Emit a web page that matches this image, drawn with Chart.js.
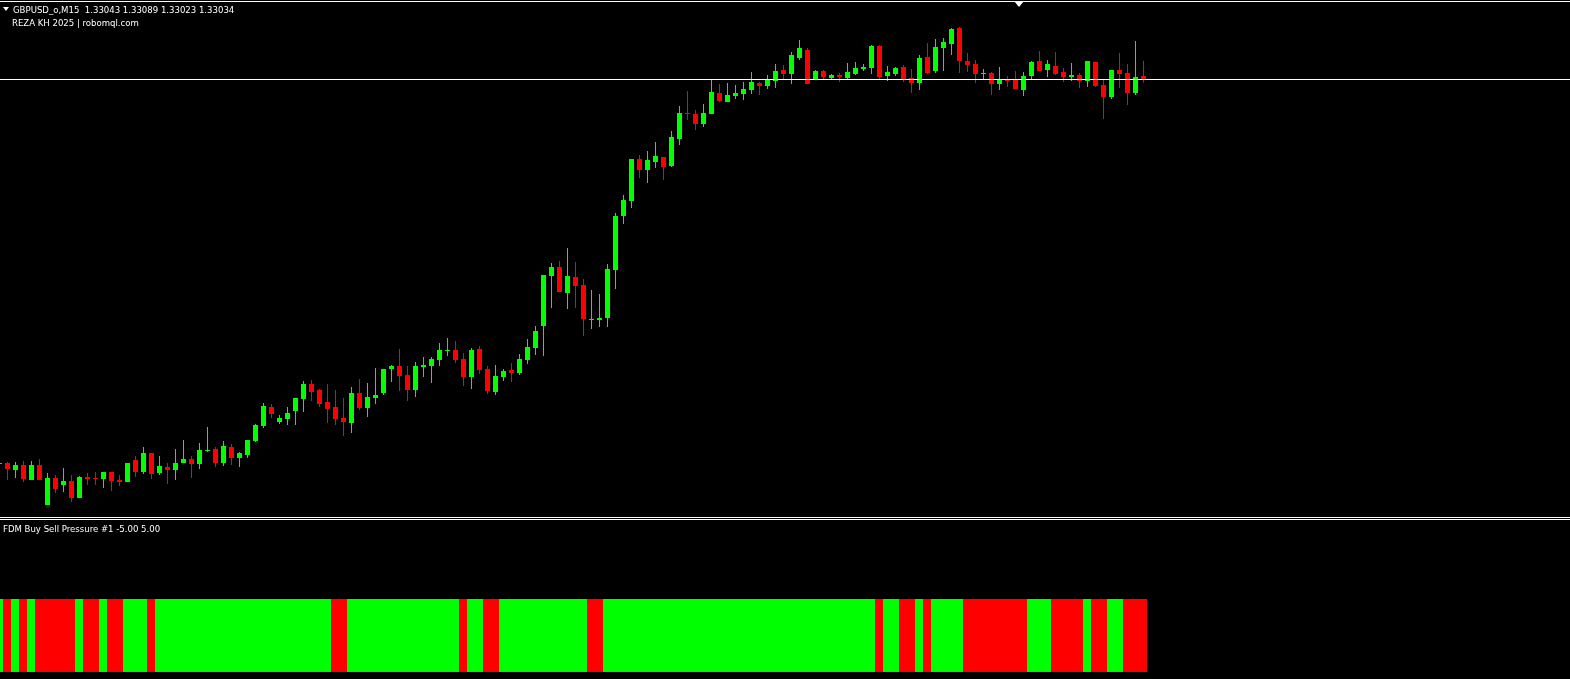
<!DOCTYPE html>
<html>
<head>
<meta charset="utf-8">
<script src="https://cdn.jsdelivr.net/npm/chart.js@4.4.1/dist/chart.umd.min.js"></script>
<style>
  html, body { margin: 0; padding: 0; background: #000; overflow: hidden; }
  #wrap { position: relative; width: 1570px; height: 679px; background: #000; }
  canvas { position: absolute; left: 0; }
  .txt { position: absolute; color: #fff; font-family: "DejaVu Sans Condensed", "DejaVu Sans", sans-serif;
         font-size: 9.5px; line-height: 11px; white-space: pre; z-index: 5; }
  .hl { position: absolute; left: 0; width: 1570px; height: 1px; background: #fff; z-index: 4; }
  .tri { position: absolute; width: 0; height: 0; border-left-style: solid; border-right-style: solid;
         border-top-style: solid; border-left-color: transparent; border-right-color: transparent;
         border-top-color: #fff; z-index: 5; }
</style>
</head>
<body>
<div id="wrap">
  <canvas id="main" width="1570" height="515" style="top:0"></canvas>
  <canvas id="sub" width="1570" height="160" style="top:519px"></canvas>
  <div class="hl" style="top:1px"></div>
  <div class="hl" style="top:517px"></div>
  <div class="hl" style="top:519px"></div>
  <div class="tri" style="left:3px;top:7px;border-left-width:3px;border-right-width:3px;border-top-width:4px"></div>
  <div class="tri" style="left:1014px;top:1px;border-left-width:5px;border-right-width:5px;border-top-width:6px"></div>
  <div class="txt" id="t1" style="left:13px;top:3.5px"></div>
  <div class="txt" id="t2" style="left:12px;top:16.5px"></div>
  <div class="txt" id="t3" style="left:3px;top:523px"></div>
</div>
<script>
// ---------------- DATA (GBPUSD_o, M15) ----------------
const symbol = "GBPUSD_o,M15";
const copyright = "REZA KH 2025 | robomql.com";
const indicatorName = "FDM Buy Sell Pressure #1";
const indicatorRange = [-5.00, 5.00];

const open = [
1.31879,1.31882,1.31861,1.31876,1.31831,1.31876,1.31756,1.31837,1.31816,1.31828,
1.31777,1.31840,1.31837,1.31834,1.31855,1.31831,1.31825,1.31891,1.31855,1.31912,
1.31852,1.31870,1.31861,1.31882,1.31894,1.31879,1.31918,1.31924,1.31882,1.31930,
1.31897,1.31906,1.31948,1.31993,1.32050,1.32005,1.32014,1.32038,1.32074,1.32119,
1.32101,1.32065,1.32050,1.32017,1.32002,1.32092,1.32047,1.32077,1.32092,1.32164,
1.32173,1.32146,1.32101,1.32170,1.32173,1.32191,1.32218,1.32221,1.32194,1.32140,
1.32224,1.32164,1.32095,1.32140,1.32161,1.32152,1.32191,1.32227,1.32293,1.32443,
1.32470,1.32392,1.32440,1.32416,1.32311,1.32311,1.32317,1.32461,1.32623,1.32668,
1.32794,1.32761,1.32785,1.32800,1.32773,1.32854,1.32932,1.32929,1.32899,1.32929,
1.32992,1.32965,1.32983,1.32989,1.33001,1.33022,1.33013,1.33028,1.33061,1.33049,
1.33097,1.33121,1.33034,1.33058,1.33037,1.33046,1.33037,1.33049,1.33064,1.33067,
1.33133,1.33043,1.33049,1.33070,1.33037,1.33022,1.33100,1.33058,1.33127,1.33139,
1.33187,1.33088,1.33079,1.33049,1.33052,1.33019,1.33034,1.33031,1.33001,1.33043,
1.33088,1.33061,1.33073,1.33055,1.33040,1.33046,1.33028,1.33085,1.33016,1.32980,
1.33061,1.33052,1.32992,1.33043];

const high = [
1.31885,1.31885,1.31885,1.31888,1.31888,1.31894,1.31852,1.31846,1.31867,1.31846,
1.31843,1.31852,1.31855,1.31855,1.31855,1.31846,1.31882,1.31903,1.31930,1.31912,
1.31903,1.31882,1.31924,1.31951,1.31903,1.31942,1.31990,1.31930,1.31948,1.31939,
1.31915,1.31951,1.31999,1.32062,1.32059,1.32026,1.32050,1.32077,1.32128,1.32131,
1.32104,1.32119,1.32101,1.32077,1.32110,1.32134,1.32122,1.32167,1.32164,1.32176,
1.32224,1.32173,1.32185,1.32200,1.32200,1.32242,1.32257,1.32248,1.32212,1.32227,
1.32233,1.32173,1.32176,1.32164,1.32182,1.32209,1.32254,1.32293,1.32446,1.32482,
1.32488,1.32527,1.32485,1.32434,1.32401,1.32389,1.32479,1.32632,1.32686,1.32794,
1.32806,1.32818,1.32845,1.32800,1.32878,1.32953,1.32998,1.32941,1.32959,1.33034,
1.33019,1.33022,1.33016,1.33025,1.33055,1.33025,1.33046,1.33079,1.33076,1.33115,
1.33151,1.33127,1.33061,1.33061,1.33049,1.33052,1.33082,1.33085,1.33079,1.33136,
1.33136,1.33073,1.33070,1.33076,1.33064,1.33106,1.33142,1.33154,1.33157,1.33187,
1.33190,1.33112,1.33091,1.33064,1.33055,1.33070,1.33043,1.33058,1.33055,1.33088,
1.33118,1.33091,1.33115,1.33067,1.33082,1.33052,1.33088,1.33085,1.33031,1.33061,
1.33112,1.33079,1.33148,1.33089];

const low = [
1.31876,1.31831,1.31837,1.31825,1.31831,1.31831,1.31756,1.31792,1.31795,1.31765,
1.31777,1.31816,1.31816,1.31807,1.31798,1.31813,1.31825,1.31840,1.31849,1.31834,
1.31846,1.31819,1.31831,1.31882,1.31837,1.31864,1.31915,1.31870,1.31873,1.31876,
1.31870,1.31897,1.31945,1.31987,1.32017,1.31999,1.31996,1.31996,1.32035,1.32068,
1.32050,1.32002,1.31996,1.31963,1.31972,1.32041,1.32020,1.32059,1.32086,1.32125,
1.32098,1.32068,1.32080,1.32140,1.32122,1.32173,1.32203,1.32182,1.32113,1.32104,
1.32149,1.32089,1.32086,1.32128,1.32125,1.32146,1.32179,1.32206,1.32203,1.32347,
1.32395,1.32344,1.32347,1.32263,1.32284,1.32290,1.32290,1.32404,1.32599,1.32647,
1.32737,1.32722,1.32767,1.32731,1.32770,1.32836,1.32911,1.32881,1.32890,1.32929,
1.32965,1.32965,1.32974,1.32971,1.32989,1.32986,1.33004,1.33007,1.33031,1.33019,
1.33091,1.33019,1.33031,1.33034,1.33031,1.33025,1.33031,1.33046,1.33058,1.33049,
1.33031,1.33028,1.33043,1.33025,1.32992,1.33001,1.33049,1.33052,1.33058,1.33106,
1.33052,1.33055,1.33022,1.33031,1.32986,1.33001,1.33010,1.33004,1.32983,1.33031,
1.33058,1.33040,1.33046,1.33025,1.33028,1.33007,1.33010,1.33010,1.32914,1.32974,
1.33007,1.32956,1.32986,1.33023];

const close = [
1.31882,1.31864,1.31876,1.31834,1.31876,1.31831,1.31837,1.31804,1.31828,1.31777,
1.31840,1.31834,1.31834,1.31855,1.31828,1.31825,1.31882,1.31855,1.31912,1.31849,
1.31873,1.31861,1.31882,1.31894,1.31879,1.31921,1.31921,1.31882,1.31933,1.31897,
1.31912,1.31951,1.31996,1.32053,1.32029,1.32017,1.32032,1.32077,1.32119,1.32095,
1.32059,1.32044,1.32014,1.32005,1.32092,1.32047,1.32080,1.32086,1.32164,1.32173,
1.32143,1.32101,1.32173,1.32176,1.32194,1.32221,1.32221,1.32191,1.32140,1.32221,
1.32161,1.32098,1.32143,1.32158,1.32152,1.32194,1.32230,1.32278,1.32446,1.32470,
1.32395,1.32443,1.32413,1.32314,1.32314,1.32317,1.32464,1.32623,1.32671,1.32794,
1.32761,1.32791,1.32803,1.32770,1.32860,1.32932,1.32929,1.32899,1.32932,1.32995,
1.32968,1.32986,1.32992,1.33004,1.33025,1.33013,1.33034,1.33058,1.33049,1.33106,
1.33127,1.33019,1.33058,1.33040,1.33046,1.33040,1.33055,1.33067,1.33070,1.33133,
1.33040,1.33055,1.33067,1.33034,1.33022,1.33097,1.33052,1.33130,1.33145,1.33184,
1.33088,1.33076,1.33049,1.33052,1.33019,1.33034,1.33028,1.33004,1.33043,1.33085,
1.33058,1.33079,1.33049,1.33040,1.33046,1.33028,1.33088,1.33013,1.32980,1.33061,
1.33049,1.32992,1.33040,1.33034];

// Buy / Sell pressure per bar (B = buy / green, S = sell / red)
const pressure = [
'B','S','B','S','B','S','S','S','S','S','B','S','S','B','S','S','B','B','B','S',
'B','B','B','B','B','B','B','B','B','B','B','B','B','B','B','B','B','B','B','B',
'B','B','S','S','B','B','B','B','B','B','B','B','B','B','B','B','B','B','S','B',
'B','S','S','B','B','B','B','B','B','B','B','B','B','B','S','S','B','B','B','B',
'B','B','B','B','B','B','B','B','B','B','B','B','B','B','B','B','B','B','B','B',
'B','B','B','B','B','B','B','B','B','B','S','B','B','S','S','B','S','B','B','B',
'B','S','S','S','S','S','S','S','S','B','B','B','S','S','S','S','B','S','S','B',
'B','S','S','S'];
const pressureLevel = -4.56;   // histogram depth in indicator units

// ---------------- LAYOUT ----------------
const BULL = '#00ff00', BEAR = '#ff0000';
const priceMin = 1.31726, priceMax = 1.33271;
const barPx = 8;
const xMinMain = 0.0625, xMinSub = 0.125;

document.getElementById('t1').textContent =
  symbol + "  " + open[open.length-1].toFixed(5) + " " + high[high.length-1].toFixed(5) + " " +
  low[low.length-1].toFixed(5) + " " + close[close.length-1].toFixed(5);
document.getElementById('t2').textContent = copyright;
document.getElementById('t3').textContent =
  indicatorName + " " + indicatorRange[0].toFixed(2) + " " + indicatorRange[1].toFixed(2);

const N = open.length;
const candleColors = open.map((o, i) => close[i] >= o ? BULL : BEAR);

const bidLine = {
  id: 'bidLine',
  afterDatasetsDraw(chart) {
    const ctx = chart.ctx;
    const y = Math.round(chart.scales.y.getPixelForValue(close[N - 1]));
    ctx.save();
    ctx.fillStyle = '#ffffff';
    ctx.fillRect(0, y, chart.width, 1);
    ctx.restore();
  }
};

const commonOpts = (xmin, ymin, ymax) => ({
  responsive: false,
  animation: false,
  devicePixelRatio: 1,
  layout: { padding: 0 },
  plugins: { legend: { display: false }, tooltip: { enabled: false }, title: { display: false } },
  scales: {
    x: { type: 'linear', min: xmin, max: xmin + 1570 / barPx, offset: false, display: false, grid: { display: false } },
    y: { type: 'linear', min: ymin, max: ymax, display: false, grid: { display: false } }
  }
});

new Chart(document.getElementById('main'), {
  type: 'bar',
  data: {
    datasets: [
      {
        label: 'body',
        data: open.map((o, i) => ({ x: i, y: [o, close[i]] })),
        backgroundColor: candleColors,
        borderWidth: 0, barThickness: 5, grouped: false, minBarLength: 1, inflateAmount: 0
      },
      {
        label: 'wick',
        data: high.map((h, i) => ({ x: i, y: [low[i], h] })),
        backgroundColor: candleColors,
        borderWidth: 0, barThickness: 1, grouped: false, minBarLength: 1, inflateAmount: 0
      }
    ]
  },
  options: commonOpts(xMinMain, priceMin, priceMax),
  plugins: [bidLine]
});

new Chart(document.getElementById('sub'), {
  type: 'bar',
  data: {
    datasets: [{
      label: indicatorName,
      data: pressure.map((p, i) => ({ x: i, y: [0, pressureLevel] })),
      backgroundColor: pressure.map(p => p === 'B' ? BULL : BEAR),
      borderWidth: 0, barThickness: barPx, grouped: false, inflateAmount: 0
    }]
  },
  options: commonOpts(xMinSub, indicatorRange[0], indicatorRange[1])
});
</script>
</body>
</html>
